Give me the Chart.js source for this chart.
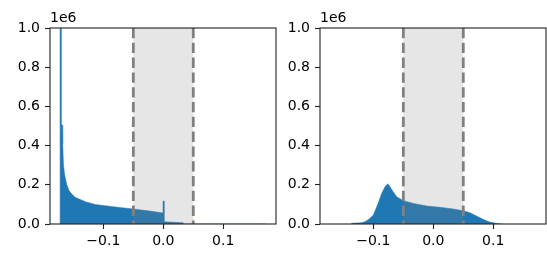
<!DOCTYPE html>
<html>
<head>
<meta charset="utf-8">
<script src="https://cdn.jsdelivr.net/npm/chart.js@4/dist/chart.umd.min.js"></script>
<style>
  body { margin: 0; background: #fff; }
  canvas { position: absolute; top: 0; }
</style>
</head>
<body>
<canvas id="chartKiri" width="278" height="255" style="left:0"></canvas>
<canvas id="chartKanan" width="269" height="255" style="left:278px"></canvas>
<script>
// data histogram kiri (posisi x, jumlah)
const xKiri = [-0.1722, -0.1722, -0.1705, -0.1705, -0.1688, -0.1678, -0.1665, -0.1645, -0.161, -0.157,
  -0.1535, -0.147, -0.13, -0.1138, -0.0833, -0.0505, -0.022, -0.0005, -0.0005, 0.0012, 0.0012, 0.033, 0.033, 0.172];
const yKiri = [0, 1250000, 1250000, 515000, 505000, 410000, 300000, 250000, 200000, 170000,
  155000, 136000, 114000, 100000, 88000, 77000, 66000, 56000, 117000, 117000, 12000, 6000, 0, 0];

// data histogram kanan
const xKanan = [-0.137, -0.136, -0.12, -0.114, -0.107, -0.1, -0.092, -0.086, -0.0805, -0.076, -0.072,
  -0.069, -0.061, -0.05, -0.033, -0.011, 0.011, 0.033, 0.05, 0.061, 0.072, 0.083, 0.094, 0.106, 0.115];
const yKanan = [0, 4000, 6000, 12000, 25000, 46000, 106000, 157000, 190000, 205000, 190000,
  173000, 139000, 119000, 105000, 92000, 85000, 77000, 68000, 58000, 41000, 24000, 10000, 3000, 0];

const xTicks = [-0.1, 0.0, 0.1];
const yTicks = [0, 200000, 400000, 600000, 800000, 1000000];
const batasArsir = [-0.05, 0.05];
const teksOffset = "1e6";

const fontDasar = { family: "DejaVu Sans", size: 14 };
const warnaGaris = "#222";

// plugin: arsiran abu-abu, garis putus-putus, bingkai, dan teks 1e6
const pluginHiasan = {
  id: "hiasan",
  afterDatasetsDraw(chart) {
    const ctx = chart.ctx;
    const area = chart.chartArea;
    const sx = chart.scales.x;
    const kiri = sx.getPixelForValue(batasArsir[0]);
    const kanan = sx.getPixelForValue(batasArsir[1]);
    ctx.save();
    ctx.fillStyle = "rgba(128,128,128,0.2)";
    ctx.fillRect(kiri, area.top, kanan - kiri, area.bottom - area.top);
    ctx.strokeStyle = "#808080";
    ctx.lineWidth = 2.8;
    ctx.setLineDash([10.3, 4.5]);
    batasArsir.forEach(function (v) {
      const px = sx.getPixelForValue(v);
      ctx.beginPath();
      ctx.moveTo(px, area.top);
      ctx.lineTo(px, area.bottom);
      ctx.stroke();
    });
    ctx.setLineDash([]);
    ctx.strokeStyle = warnaGaris;
    ctx.lineWidth = 1.1;
    ctx.strokeRect(area.left, area.top, area.right - area.left, area.bottom - area.top);
    ctx.fillStyle = "#000";
    ctx.font = "14px 'DejaVu Sans'";
    ctx.textAlign = "left";
    ctx.textBaseline = "alphabetic";
    ctx.fillText(teksOffset, area.left, area.top - 6);
    ctx.restore();
  },
};

function buatChart(id, xs, ys, lebarSumbuY, padKanan) {
  const titik = xs.map(function (x, i) {
    return { x: x, y: ys[i] };
  });
  return new Chart(document.getElementById(id), {
    type: "line",
    data: {
      datasets: [
        {
          data: titik,
          fill: "origin",
          backgroundColor: "#1f77b4",
          borderColor: "#1f77b4",
          borderWidth: 0.5,
          pointRadius: 0,
          tension: 0,
        },
      ],
    },
    options: {
      responsive: false,
      animation: false,
      layout: { padding: { top: 28, right: padKanan, left: 0, bottom: 0 } },
      plugins: { legend: { display: false }, tooltip: { enabled: false } },
      scales: {
        x: {
          type: "linear",
          min: -0.189,
          max: 0.188,
          afterBuildTicks: function (scale) {
            scale.ticks = xTicks.map(function (v) { return { value: v }; });
          },
          afterFit: function (scale) { scale.height = 31; },
          grid: { drawOnChartArea: false, drawTicks: true, tickLength: 5, tickColor: warnaGaris, tickWidth: 1.1 },
          border: { display: false },
          ticks: {
            font: fontDasar,
            color: "#000",
            padding: 4,
            maxRotation: 0,
            callback: function (v) {
              return v < 0 ? "\u2212" + Math.abs(v).toFixed(1) : v.toFixed(1);
            },
          },
        },
        y: {
          min: 0,
          max: 1000000,
          afterBuildTicks: function (scale) {
            scale.ticks = yTicks.map(function (v) { return { value: v }; });
          },
          afterFit: function (scale) { scale.width = lebarSumbuY; },
          grid: { drawOnChartArea: false, drawTicks: true, tickLength: 5, tickColor: warnaGaris, tickWidth: 1.1 },
          border: { display: false },
          ticks: {
            font: fontDasar,
            color: "#000",
            padding: 5,
            callback: function (v) { return (v / 1e6).toFixed(1); },
          },
        },
      },
    },
    plugins: [pluginHiasan],
  });
}

buatChart("chartKiri", xKiri, yKiri, 50, 2);
buatChart("chartKanan", xKanan, yKanan, 42, 1);
</script>
</body>
</html>
